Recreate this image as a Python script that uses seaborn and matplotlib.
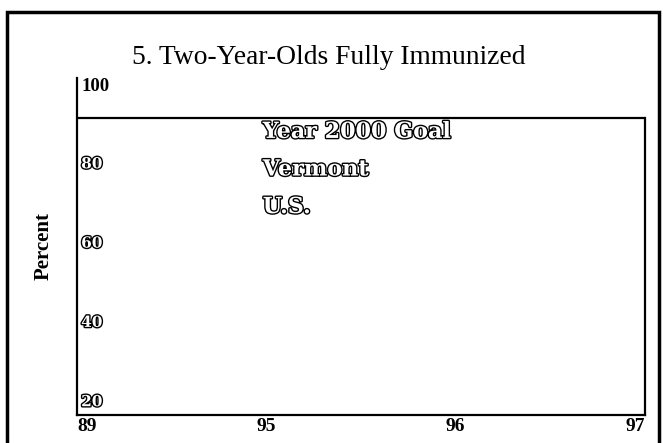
import matplotlib
matplotlib.use("Agg")
import matplotlib.pyplot as plt
import matplotlib.patheffects as pe
from matplotlib.patches import Rectangle
import pandas as pd
import seaborn as sns

# --- Data ---
YEARS = ["89", "95", "96", "97"]
GOAL = [90, 90, 90, 90]          # Year 2000 Goal, flat line
Y_TICKS = [20, 40, 60, 80, 100]
LEGEND = ["Year 2000 Goal", "Vermont", "U.S."]

sns.set_theme(style="white")
plt.rcParams["font.family"] = ["Liberation Serif", "DejaVu Serif"]
plt.rcParams["text.color"] = "black"

outline = [pe.withStroke(linewidth=2.0, foreground="black")]
OUTLINE_FONT = ["DejaVu Serif"]

fig = plt.figure(figsize=(6.63, 4.43), dpi=100)
ax = fig.add_axes([77 / 663, 1 - 415 / 443, (645 - 77) / 663, (415 - 78) / 443])

df = pd.DataFrame({"year": YEARS, "pct": GOAL})
sns.lineplot(data=df, x="year", y="pct", color="black", linewidth=1.6, ax=ax)

ax.set_xlim(0, len(YEARS) - 1)
ax.set_ylim(15, 100)
ax.set_xlabel("")
ax.set_ylabel("Percent", fontsize=15, fontweight="semibold", color="black", labelpad=17)

# spines: no top, right only up to the goal line
ax.spines["top"].set_visible(False)
for s in ["left", "bottom", "right"]:
    ax.spines[s].set_color("black")
    ax.spines[s].set_linewidth(1.6)
ax.spines["right"].set_bounds(15, GOAL[-1])

# x ticks under the axis, outer ones aligned to the edges
ax.set_xticks(range(len(YEARS)))
ax.set_xticklabels(YEARS, fontsize=14, fontweight="bold", color="black")
ax.tick_params(axis="x", length=0, pad=2)
xl = ax.get_xticklabels()
xl[0].set_ha("left")
xl[-1].set_ha("right")

# y tick labels drawn inside the plot, hanging below each value
ax.set_yticks(Y_TICKS)
ax.set_yticklabels([str(v) for v in Y_TICKS], fontsize=13.5, fontweight="bold", color="black")
ax.tick_params(axis="y", length=0, pad=-3)
for lab in ax.get_yticklabels():
    lab.set_ha("left")
    lab.set_va("top")
    if lab.get_text() != "100":
        lab.set_family(OUTLINE_FONT)
        lab.set_fontsize(11)
        lab.set_color("white")
        lab.set_path_effects(outline)

# legend entries as outlined text
for i, name in enumerate(LEGEND):
    ax.text(0.327, 0.84 - i * 0.1115, name, transform=ax.transAxes,
            family=OUTLINE_FONT, fontsize=16, fontweight="bold", color="white",
            ha="left", va="center", path_effects=outline)

fig.text(329 / 663, 1 - 58 / 443, "5. Two-Year-Olds Fully Immunized",
         ha="center", va="center", fontsize=19.8, color="black")

# outer frame of the page
fig.patches.append(Rectangle((7 / 663, -0.05), (659 - 7) / 663, 1.05 - 12 / 443,
                             transform=fig.transFigure, fill=False,
                             edgecolor="black", linewidth=2.5))

fig.savefig("out.png", dpi=100)
